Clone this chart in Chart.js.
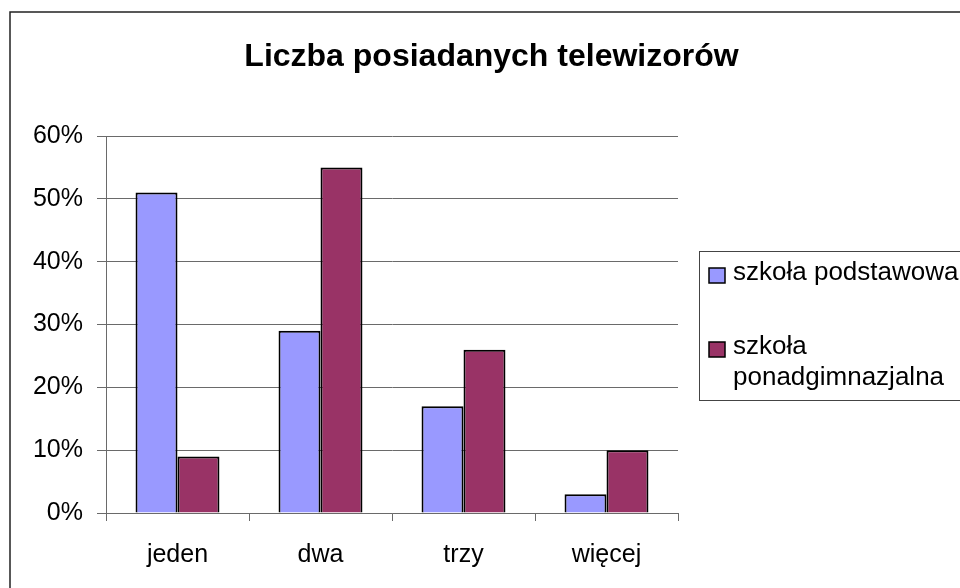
<!DOCTYPE html>
<html>
<head>
<meta charset="utf-8">
<style>
  html, body { margin: 0; padding: 0; background: #fff; }
  #wrap { width: 960px; height: 588px; position: relative; }
</style>
<script src="https://cdn.jsdelivr.net/npm/chart.js@4/dist/chart.umd.min.js"></script>
</head>
<body>
<div id="wrap"><canvas id="c" width="960" height="588"></canvas></div>
<script>
const chartTitle = 'Liczba posiadanych telewizorów';
const categories = ['jeden', 'dwa', 'trzy', 'więcej'];
const seriesNames = ['szkoła podstawowa', 'szkoła ponadgimnazjalna'];
const seriesColors = ['#9999FF', '#993366'];
const podstawowa = [51, 29, 17, 3];
const ponadgimnazjalna = [9, 55, 26, 10];
const yTicks = [0, 10, 20, 30, 40, 50, 60];

const FONT = '"Liberation Sans", Arial, sans-serif';
const axisColor = '#6a6a6a';

const framePlugin = {
  id: 'frame',
  afterDraw(chart) {
    const ctx = chart.ctx;
    ctx.save();
    // outer border
    ctx.strokeStyle = '#222';
    ctx.lineWidth = 1.5;
    ctx.strokeRect(10, 12, 1000, 1000);
    // title
    ctx.fillStyle = '#000';
    ctx.font = 'bold 32px ' + FONT;
    ctx.textAlign = 'center';
    ctx.textBaseline = 'alphabetic';
    ctx.fillText(chartTitle, 491.5, 66);
    // legend
    ctx.strokeStyle = '#444';
    ctx.lineWidth = 1;
    ctx.strokeRect(699.5, 251.5, 400, 149);
    ctx.font = '26px ' + FONT;
    ctx.textAlign = 'left';
    const itemTops = [268, 342];
    chart.data.datasets.forEach((ds, i) => {
      const top = itemTops[i];
      ctx.fillStyle = ds.backgroundColor;
      ctx.fillRect(709, top, 16, 15);
      ctx.strokeStyle = '#000';
      ctx.lineWidth = 1.5;
      ctx.strokeRect(709, top, 16, 15);
      // wrap
      const words = ds.label.split(' ');
      const lines = [];
      let cur = '';
      words.forEach(w => {
        const t = cur ? cur + ' ' + w : w;
        if (ctx.measureText(t).width > 232 && cur) { lines.push(cur); cur = w; }
        else cur = t;
      });
      if (cur) lines.push(cur);
      ctx.fillStyle = '#000';
      lines.forEach((ln, j) => ctx.fillText(ln, 733, top + 12 + j * 31));
    });
    ctx.restore();
  }
};

new Chart(document.getElementById('c'), {
  type: 'bar',
  data: {
    labels: categories,
    datasets: [
      { label: seriesNames[0], data: podstawowa, backgroundColor: seriesColors[0], borderColor: '#000', borderWidth: 2 },
      { label: seriesNames[1], data: ponadgimnazjalna, backgroundColor: seriesColors[1], borderColor: '#000', borderWidth: 2 }
    ]
  },
  options: {
    responsive: false,
    animation: false,
    devicePixelRatio: 1,
    layout: { padding: { top: 136, right: 282, left: 0, bottom: 0 } },
    plugins: { legend: { display: false }, title: { display: false }, tooltip: { enabled: false } },
    datasets: { bar: { categoryPercentage: 0.587, barPercentage: 1.0 } },
    scales: {
      x: {
        afterFit(s) { s.height = 75; },
        grid: { display: true, drawOnChartArea: false, drawTicks: true, tickLength: 8, color: axisColor, offset: true },
        border: { display: true, color: axisColor, width: 1 },
        ticks: { font: { family: FONT, size: 25 }, color: '#000', padding: 19 }
      },
      y: {
        min: 0, max: 60,
        afterFit(s) { s.width = 106; },
        afterBuildTicks(s) { s.ticks = yTicks.map(v => ({ value: v })); },
        grid: { color: axisColor, tickLength: 9, drawTicks: true },
        border: { display: true, color: axisColor, width: 1 },
        ticks: { font: { family: FONT, size: 25 }, color: '#000', padding: 14, callback: v => v + '%' }
      }
    }
  },
  plugins: [framePlugin]
});
</script>
</body>
</html>
